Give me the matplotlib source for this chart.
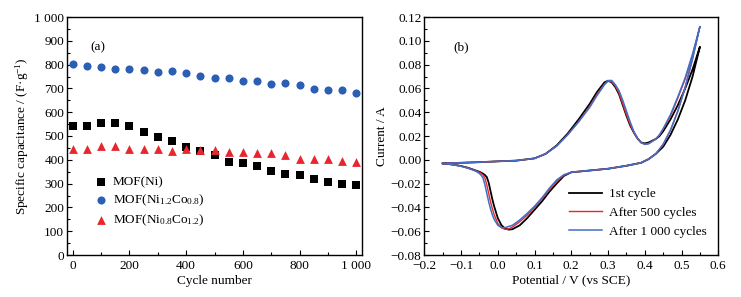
import matplotlib
matplotlib.use("Agg")
import matplotlib.pyplot as plt
from matplotlib.ticker import MultipleLocator, FuncFormatter

plt.rcParams['font.family'] = ['Liberation Serif', 'DejaVu Serif']
plt.rcParams['mathtext.fontset'] = 'custom'
plt.rcParams['mathtext.rm'] = 'Liberation Serif'
plt.rcParams['mathtext.it'] = 'Liberation Serif:italic'
plt.rcParams['font.size'] = 9.5

# ---------------- Panel (a) data ----------------
cycles = [0, 50, 100, 150, 200, 250, 300, 350, 400, 450, 500, 550, 600, 650, 700,
          750, 800, 850, 900, 950, 1000]
cap_ni = [542, 542, 556, 556, 542, 518, 497, 480, 455, 438, 420, 392, 387, 374, 354,
          342, 335, 318, 307, 298, 293]
cap_ni12co08 = [803, 796, 790, 783, 783, 776, 771, 772, 765, 751, 744, 743, 730, 730, 720,
                722, 713, 699, 694, 694, 680]
cap_ni08co12 = [447, 447, 457, 457, 447, 447, 447, 438, 447, 441, 441, 433, 433, 427, 427,
                419, 403, 403, 403, 395, 389]

# ---------------- Panel (b) data ----------------
fwd_E = [-0.15, -0.10, -0.05, 0.0, 0.05, 0.10, 0.13, 0.16, 0.19, 0.22, 0.25, 0.27, 0.29,
         0.30, 0.31, 0.32, 0.33, 0.34, 0.35, 0.36, 0.37, 0.38, 0.39, 0.40, 0.41, 0.42,
         0.43, 0.44, 0.45, 0.47, 0.49, 0.51, 0.53, 0.55]
rev_E = [0.55, 0.53, 0.51, 0.49, 0.47, 0.45, 0.43, 0.41, 0.39, 0.35, 0.30, 0.25, 0.20,
         0.18, 0.16, 0.14, 0.12, 0.10, 0.08, 0.06, 0.04, 0.03, 0.02, 0.01, 0.0, -0.01,
         -0.015, -0.02, -0.025, -0.03, -0.035, -0.04, -0.045, -0.05, -0.06, -0.08, -0.10,
         -0.12, -0.15]

fwd_1st = [-0.003, -0.0025, -0.002, -0.0013, -0.0007, 0.0012, 0.005, 0.012, 0.022, 0.034,
           0.047, 0.057, 0.065, 0.0665, 0.065, 0.061, 0.055, 0.046, 0.037, 0.029, 0.023,
           0.018, 0.0145, 0.0138, 0.0145, 0.016, 0.0175, 0.020, 0.024, 0.034, 0.046,
           0.060, 0.076, 0.095]
fwd_500 = [-0.003, -0.0025, -0.002, -0.0013, -0.0007, 0.0012, 0.005, 0.0115, 0.021, 0.032,
           0.045, 0.055, 0.0635, 0.066, 0.0655, 0.062, 0.056, 0.047, 0.038, 0.030, 0.023,
           0.018, 0.0145, 0.013, 0.0135, 0.0155, 0.0175, 0.021, 0.026, 0.037, 0.052,
           0.068, 0.088, 0.112]
fwd_1000 = [-0.003, -0.0025, -0.002, -0.0013, -0.0007, 0.0012, 0.005, 0.0115, 0.021, 0.032,
            0.044, 0.054, 0.063, 0.0665, 0.0667, 0.063, 0.058, 0.050, 0.041, 0.032, 0.024,
            0.018, 0.0145, 0.013, 0.0135, 0.0155, 0.0175, 0.021, 0.026, 0.038, 0.053,
            0.069, 0.089, 0.112]

rev_1st = [0.095, 0.070, 0.050, 0.034, 0.021, 0.011, 0.005, 0.0005, -0.0025, -0.005,
           -0.0075, -0.009, -0.0105, -0.0135, -0.020, -0.027, -0.035, -0.042, -0.049,
           -0.055, -0.0583, -0.0587, -0.0578, -0.055, -0.049, -0.039, -0.033, -0.026,
           -0.019, -0.0145, -0.0128, -0.0117, -0.0108, -0.0101, -0.009, -0.0068, -0.0052,
           -0.0041, -0.003]
rev_500 = [0.112, 0.085, 0.061, 0.041, 0.025, 0.013, 0.005, 0.0005, -0.0025, -0.005,
           -0.0075, -0.009, -0.0105, -0.013, -0.018, -0.025, -0.033, -0.040, -0.0465,
           -0.052, -0.0565, -0.058, -0.0585, -0.057, -0.0535, -0.046, -0.041, -0.035,
           -0.028, -0.021, -0.0155, -0.0128, -0.0115, -0.0105, -0.0092, -0.007, -0.0053,
           -0.0042, -0.003]
rev_1000 = [0.112, 0.085, 0.061, 0.041, 0.025, 0.013, 0.005, 0.0005, -0.0025, -0.005,
            -0.0075, -0.009, -0.0105, -0.0125, -0.017, -0.024, -0.032, -0.039, -0.045,
            -0.0505, -0.055, -0.056, -0.057, -0.057, -0.055, -0.050, -0.046, -0.041,
            -0.035, -0.028, -0.021, -0.0155, -0.013, -0.0115, -0.0095, -0.0072, -0.0054,
            -0.0042, -0.003]

c_black = '#000000'
c_blue = '#2b5fb4'
c_red = '#e8262d'
c_lblue = '#3f6fc8'

fig = plt.figure(figsize=(7.41, 2.97), dpi=100)
ax1 = fig.add_axes([67 / 741, 42 / 297, 295 / 741, 238 / 297])
ax2 = fig.add_axes([424.3 / 741, 42 / 297, 294 / 741, 238 / 297])

# Panel (a)
ax1.scatter(cycles, cap_ni, marker='s', s=26, color=c_black, linewidths=0, label='MOF(Ni)', zorder=3)
ax1.scatter(cycles, cap_ni12co08, marker='o', s=34, color=c_blue, linewidths=0,
            label='MOF(Ni$_{1.2}$Co$_{0.8}$)', zorder=3)
ax1.scatter(cycles, cap_ni08co12, marker='^', s=40, color=c_red, linewidths=0,
            label='MOF(Ni$_{0.8}$Co$_{1.2}$)', zorder=3)
ax1.set_xlim(-20, 1020)
ax1.set_ylim(0, 1000)
ax1.xaxis.set_major_locator(MultipleLocator(200))
ax1.xaxis.set_minor_locator(MultipleLocator(100))
ax1.yaxis.set_major_locator(MultipleLocator(100))
ax1.yaxis.set_minor_locator(MultipleLocator(50))
thou = lambda v, p: ('1 000' if abs(v - 1000) < 1e-6 else '%d' % v)
ax1.xaxis.set_major_formatter(FuncFormatter(thou))
ax1.yaxis.set_major_formatter(FuncFormatter(thou))
ax1.set_xlabel('Cycle number', labelpad=2)
ax1.set_ylabel('Specific capacitance / (F·g$^{-1}$)', labelpad=2)
ax1.text(0.08, 0.86, '(a)', transform=ax1.transAxes)
ax1.legend(loc='lower left', bbox_to_anchor=(0.07, 0.09), frameon=False, handletextpad=0.3,
           labelspacing=0.35, borderaxespad=0, handlelength=1.2)

# Panel (b)
ax2.plot(fwd_E + rev_E, fwd_1st + rev_1st, color=c_black, lw=1.3, label='1st cycle')
ax2.plot(fwd_E + rev_E, fwd_500 + rev_500, color=c_red, lw=1.0, label='After 500 cycles')
ax2.plot(fwd_E + rev_E, fwd_1000 + rev_1000, color=c_lblue, lw=1.1, label='After 1 000 cycles')
ax2.set_xlim(-0.2, 0.6)
ax2.set_ylim(-0.08, 0.12)
ax2.xaxis.set_major_locator(MultipleLocator(0.1))
ax2.xaxis.set_minor_locator(MultipleLocator(0.05))
ax2.yaxis.set_major_locator(MultipleLocator(0.02))
ax2.yaxis.set_minor_locator(MultipleLocator(0.01))
ax2.xaxis.set_major_formatter(FuncFormatter(lambda v, p: ('%.1f' % v).replace('-', '\u2212')))
ax2.yaxis.set_major_formatter(FuncFormatter(lambda v, p: ('%.2f' % v).replace('-', '\u2212')))
ax2.set_xlabel('Potential / V (vs SCE)', labelpad=2)
ax2.set_ylabel('Current / A', labelpad=2)
ax2.text(0.1, 0.86, '(b)', transform=ax2.transAxes)
ax2.legend(loc='lower left', bbox_to_anchor=(0.475, 0.05), frameon=False, handletextpad=0.5,
           labelspacing=0.5, borderaxespad=0, handlelength=2.5)

for ax in (ax1, ax2):
    ax.tick_params(which='both', direction='in', top=False, right=False, width=0.8)
    ax.tick_params(which='major', length=3.5, pad=2)
    ax.tick_params(which='minor', length=2)
    ax.tick_params(axis='x', which='major', pad=3.5)
    for s in ax.spines.values():
        s.set_linewidth(1.0)

fig.savefig('out.png', dpi=100)
